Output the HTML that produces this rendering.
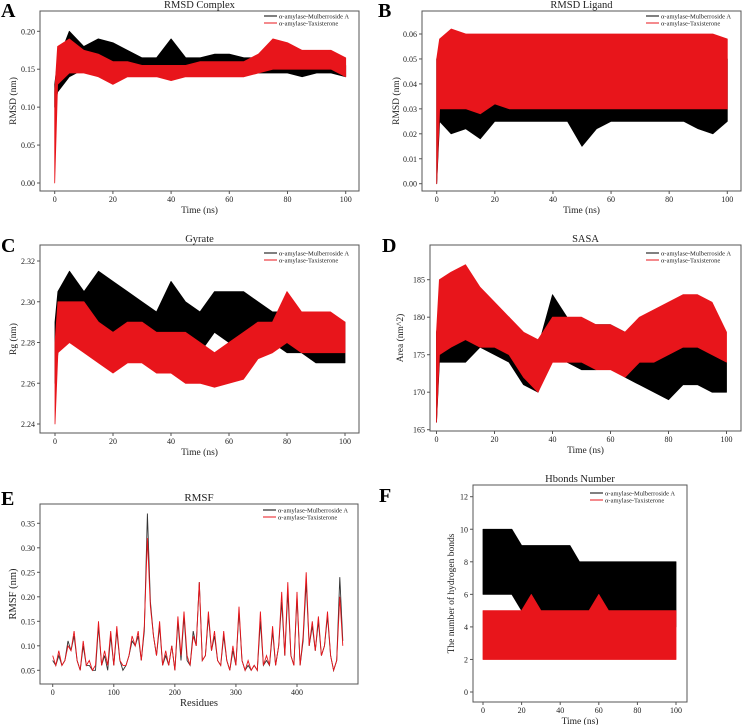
<!DOCTYPE html>
<html><head><meta charset="utf-8"><style>
body{margin:0;background:#fff}
svg{display:block;font-family:"Liberation Serif",serif}
</style></head><body>
<svg id="fig" width="743" height="725" viewBox="0 0 743 725"></svg>
<script>
// ---- data ----
const timesA=[0,1,5,10,15,20,25,30,35,40,45,50,55,60,65,70,75,80,85,90,95,100];
const rmsdComplexMulLo=[0.10,0.12,0.14,0.15,0.15,0.15,0.145,0.145,0.145,0.155,0.145,0.15,0.15,0.15,0.145,0.145,0.145,0.145,0.14,0.145,0.145,0.14];
const rmsdComplexMulHi=[0.13,0.16,0.20,0.18,0.19,0.185,0.175,0.165,0.165,0.19,0.165,0.165,0.17,0.17,0.165,0.165,0.16,0.165,0.16,0.165,0.16,0.155];
const rmsdComplexTaxLo=[0.0,0.13,0.145,0.145,0.14,0.13,0.14,0.14,0.14,0.135,0.14,0.14,0.14,0.14,0.14,0.145,0.15,0.15,0.15,0.15,0.15,0.14];
const rmsdComplexTaxHi=[0.12,0.18,0.19,0.175,0.17,0.16,0.16,0.155,0.155,0.155,0.155,0.16,0.16,0.16,0.16,0.17,0.19,0.185,0.175,0.175,0.175,0.165];
const rmsdLigMulLo=[0.0,0.025,0.02,0.022,0.018,0.025,0.025,0.025,0.025,0.025,0.025,0.015,0.022,0.025,0.025,0.025,0.025,0.025,0.025,0.022,0.02,0.025];
const rmsdLigMulHi=[0.05,0.05,0.05,0.05,0.05,0.05,0.05,0.05,0.05,0.05,0.05,0.05,0.05,0.05,0.05,0.05,0.05,0.05,0.05,0.05,0.05,0.05];
const rmsdLigTaxLo=[0.0,0.03,0.03,0.03,0.028,0.032,0.03,0.03,0.03,0.03,0.03,0.03,0.03,0.03,0.03,0.03,0.03,0.03,0.03,0.03,0.03,0.03];
const rmsdLigTaxHi=[0.05,0.058,0.062,0.06,0.06,0.06,0.06,0.06,0.06,0.06,0.06,0.06,0.06,0.06,0.06,0.06,0.06,0.06,0.06,0.06,0.06,0.058];
const rgMulLo=[2.26,2.275,2.285,2.285,2.285,2.285,2.285,2.28,2.28,2.285,2.28,2.275,2.285,2.28,2.285,2.28,2.28,2.275,2.275,2.27,2.27,2.27];
const rgMulHi=[2.29,2.305,2.315,2.305,2.315,2.31,2.305,2.30,2.295,2.31,2.30,2.295,2.305,2.305,2.305,2.30,2.295,2.295,2.29,2.29,2.29,2.29];
const rgTaxLo=[2.24,2.275,2.28,2.275,2.27,2.265,2.27,2.27,2.265,2.265,2.26,2.26,2.258,2.26,2.262,2.272,2.275,2.28,2.275,2.275,2.275,2.275];
const rgTaxHi=[2.28,2.30,2.30,2.30,2.29,2.285,2.29,2.29,2.285,2.285,2.285,2.28,2.275,2.28,2.285,2.29,2.29,2.305,2.295,2.295,2.295,2.29];
const sasaMulLo=[166,174,174,174,176,175,174,171,170,175,174,173,173,174,172,171,170,169,171,171,170,170];
const sasaMulHi=[178,180,181,183,182,181,180,177,176,183,180,179,179,179,178,176,175,175,176,176,175,174];
const sasaTaxLo=[166,175,176,177,176,176,175,172,170,174,174,174,173,173,172,174,174,175,176,176,175,174];
const sasaTaxHi=[178,185,186,187,184,182,180,178,177,180,180,180,179,179,178,180,181,182,183,183,182,178];
const timesF=[0,5,10,15,20,25,30,35,40,45,50,55,60,65,70,75,80,85,90,95,100];
const hbMulLo=[6,6,6,6,5,5,5,5,5,5,5,5,5,5,4,4,4,4,4,4,4];
const hbMulHi=[10,10,10,10,9,9,9,9,9,9,8,8,8,8,8,8,8,8,8,8,8];
const hbTaxLo=[2,2,2,2,2,2,2,2,2,2,2,2,2,2,2,2,2,2,2,2,2];
const hbTaxHi=[5,5,5,5,5,6,5,5,5,5,5,5,6,5,5,5,5,5,5,5,5];
const residues=[0,5,10,15,20,25,30,35,40,45,50,55,60,65,70,75,80,85,90,95,100,105,110,115,120,125,130,135,140,145,150,155,160,165,170,175,180,185,190,195,200,205,210,215,220,225,230,235,240,245,250,255,260,265,270,275,280,285,290,295,300,305,310,315,320,325,330,335,340,345,350,355,360,365,370,375,380,385,390,395,400,405,410,415,420,425,430,435,440,445,450,455,460,465,470,475];
const rmsfTax=[0.08,0.06,0.09,0.06,0.07,0.10,0.09,0.13,0.07,0.05,0.11,0.06,0.07,0.05,0.06,0.15,0.06,0.09,0.06,0.13,0.06,0.14,0.07,0.06,0.06,0.08,0.12,0.10,0.13,0.07,0.14,0.32,0.18,0.12,0.08,0.15,0.06,0.09,0.06,0.10,0.05,0.16,0.08,0.17,0.08,0.06,0.12,0.10,0.23,0.07,0.08,0.17,0.09,0.13,0.07,0.06,0.13,0.07,0.05,0.10,0.06,0.18,0.07,0.05,0.07,0.05,0.06,0.05,0.17,0.06,0.08,0.06,0.14,0.06,0.10,0.21,0.08,0.23,0.08,0.06,0.21,0.06,0.12,0.25,0.10,0.15,0.09,0.16,0.08,0.10,0.17,0.08,0.05,0.07,0.20,0.10];
const rmsfMul=[0.07,0.06,0.08,0.06,0.07,0.11,0.09,0.12,0.07,0.05,0.10,0.06,0.06,0.05,0.05,0.14,0.06,0.08,0.05,0.12,0.06,0.13,0.07,0.05,0.06,0.08,0.11,0.10,0.12,0.07,0.13,0.37,0.19,0.12,0.08,0.14,0.06,0.08,0.06,0.10,0.05,0.15,0.07,0.16,0.07,0.06,0.13,0.10,0.23,0.07,0.08,0.16,0.09,0.12,0.07,0.06,0.12,0.07,0.05,0.09,0.06,0.17,0.07,0.05,0.06,0.05,0.06,0.05,0.15,0.06,0.07,0.06,0.13,0.06,0.10,0.19,0.08,0.21,0.08,0.06,0.20,0.06,0.11,0.23,0.10,0.14,0.09,0.15,0.08,0.10,0.16,0.08,0.05,0.07,0.24,0.11];

const NS="http://www.w3.org/2000/svg";
const svg=document.getElementById('fig');
function el(tag,attrs,parent,txt){const e=document.createElementNS(NS,tag);for(const k in attrs)e.setAttribute(k,attrs[k]);if(txt!==undefined)e.textContent=txt;(parent||svg).appendChild(e);return e;}

function panel(cfg){
  const g=el('g',{});
  
  
  const b=cfg.box;
  const sx=v=>cfg.x0px+(v-cfg.xd[0])/(cfg.xd[1]-cfg.xd[0])*(cfg.x1px-cfg.x0px);
  const sy=v=>cfg.y0px+(v-cfg.yd[0])/(cfg.yd[1]-cfg.yd[0])*(cfg.y1px-cfg.y0px);
  // series
  cfg.series.forEach(s=>{
    let d;
    if(s.lo){
      d='M'+s.t.map((t,i)=>sx(t).toFixed(1)+','+sy(s.hi[i]).toFixed(1)).join('L')+'L'+s.t.slice().reverse().map((t,j)=>{const i=s.t.length-1-j;return sx(t).toFixed(1)+','+sy(s.lo[i]).toFixed(1);}).join('L')+'Z';
      const p=el('path',{d:d,fill:s.color,stroke:s.color,'stroke-width':0.8,'stroke-linejoin':'round'},g);
      
      
    }else{
      d='M'+s.t.map((t,i)=>sx(t).toFixed(1)+','+sy(s.v[i]).toFixed(1)).join('L');
      const p=el('path',{d:d,fill:'none',stroke:s.color,'stroke-width':0.9},g);
      
      
    }
  });
  const box=el('rect',{x:b[0],y:b[1],width:b[2]-b[0],height:b[3]-b[1],fill:'none',stroke:'#555','stroke-width':1},g);
  
  
  cfg.xt.forEach(v=>{const x=sx(v);el('line',{x1:x,x2:x,y1:b[3],y2:b[3]+3,stroke:'#555'},g);
    const t=el('text',{x:x,y:b[3]+11,'font-size':8,'text-anchor':'middle',fill:'#222'},g,String(v));
    });
  cfg.yt.forEach(v=>{const y=sy(v);el('line',{x1:b[0],x2:b[0]-3,y1:y,y2:y,stroke:'#555'},g);
    const t=el('text',{x:b[0]-5,y:y+3,'font-size':8,'text-anchor':'end',fill:'#222'},g,cfg.fmt(v));
    });
  const ti=el('text',{x:(b[0]+b[2])/2,y:b[1]-3,'font-size':cfg.tfs||10.5,'text-anchor':'middle',fill:'#222'},g,cfg.title);
  
  const xl=el('text',{x:(b[0]+b[2])/2,y:b[3]+22,'font-size':cfg.lfs||9.5,'text-anchor':'middle',fill:'#222'},g,cfg.xlabel);
  
  const yx=cfg.ylx, yy=(b[1]+b[3])/2;
  const yl=el('text',{x:yx,y:yy,'font-size':cfg.lfs||9.5,'text-anchor':'middle',fill:'#222',transform:`rotate(-90 ${yx} ${yy})`},g,cfg.ylabel);
  
  const L=el('g',{},g);
  
  [['α-amylase-Mulberroside A','#000'],['α-amylase-Taxisterone','#e8151b']].forEach((e,i)=>{
    const ly=cfg.leg[1]+i*7;
    el('line',{x1:cfg.leg[0],x2:cfg.leg[0]+13,y1:ly,y2:ly,stroke:e[1],'stroke-width':1},L);
    const t=el('text',{x:cfg.leg[0]+15,y:ly+2.5,'font-size':6.5,fill:'#222'},L,e[0]);
    
  });
  const lt=el('text',{x:cfg.letter[0],y:cfg.letter[1],'font-size':20,'font-weight':'bold',fill:'#000'},g,cfg.letterTxt);
  
}
const K='#000',R='#e8151b';
const f2=v=>v.toFixed(2), f0=v=>String(v);
panel({name:'rmsd-complex-panel',box:[40,11,359,191],xd:[0,100],yd:[0,0.2],x0px:54.7,x1px:345.7,y0px:183,y1px:31.3,
  xt:[0,20,40,60,80,100],yt:[0,0.05,0.1,0.15,0.2],fmt:f2,title:'RMSD Complex',xlabel:'Time (ns)',ylabel:'RMSD (nm)',ylx:16,leg:[264,16],letter:[1,17],letterTxt:'A',
  series:[{name:'mulberroside-rmsd-band',t:timesA,lo:rmsdComplexMulLo,hi:rmsdComplexMulHi,color:K},{name:'taxisterone-rmsd-band',t:timesA,lo:rmsdComplexTaxLo,hi:rmsdComplexTaxHi,color:R}]});
panel({name:'rmsd-ligand-panel',box:[422,11,741,191],xd:[0,100],yd:[0,0.06],x0px:436.7,x1px:727.3,y0px:183.7,y1px:34,
  xt:[0,20,40,60,80,100],yt:[0,0.01,0.02,0.03,0.04,0.05,0.06],fmt:f2,title:'RMSD Ligand',xlabel:'Time (ns)',ylabel:'RMSD (nm)',ylx:399,leg:[646,16],letter:[378,17],letterTxt:'B',
  series:[{name:'mulberroside-ligand-band',t:timesA,lo:rmsdLigMulLo,hi:rmsdLigMulHi,color:K},{name:'taxisterone-ligand-band',t:timesA,lo:rmsdLigTaxLo,hi:rmsdLigTaxHi,color:R}]});
panel({name:'gyrate-panel',box:[40,245,359,433],xd:[0,100],yd:[2.24,2.32],x0px:55,x1px:345,y0px:424,y1px:261,
  xt:[0,20,40,60,80,100],yt:[2.24,2.26,2.28,2.30,2.32],fmt:f2,title:'Gyrate',xlabel:'Time (ns)',ylabel:'Rg (nm)',ylx:16,leg:[264,253],letter:[1,252],letterTxt:'C',
  series:[{name:'mulberroside-rg-band',t:timesA,lo:rgMulLo,hi:rgMulHi,color:K},{name:'taxisterone-rg-band',t:timesA,lo:rgTaxLo,hi:rgTaxHi,color:R}]});
panel({name:'sasa-panel',box:[430,245,741,431],xd:[0,100],yd:[165,185],x0px:436.5,x1px:726.5,y0px:429.7,y1px:279.7,
  xt:[0,20,40,60,80,100],yt:[165,170,175,180,185],fmt:f0,title:'SASA',xlabel:'Time (ns)',ylabel:'Area (nm^2)',ylx:403,leg:[646,253],letter:[382,252],letterTxt:'D',
  series:[{name:'mulberroside-sasa-band',t:timesA,lo:sasaMulLo,hi:sasaMulHi,color:K},{name:'taxisterone-sasa-band',t:timesA,lo:sasaTaxLo,hi:sasaTaxHi,color:R}]});
panel({name:'rmsf-panel',box:[40,504,358,684],xd:[0,400],yd:[0.05,0.35],x0px:52.7,x1px:297,y0px:670.3,y1px:523.3,
  xt:[0,100,200,300,400],yt:[0.05,0.1,0.15,0.2,0.25,0.3,0.35],fmt:f2,title:'RMSF',xlabel:'Residues',ylabel:'RMSF (nm)',ylx:16,leg:[263,510],letter:[1,505],letterTxt:'E',tfs:11,lfs:10.5,
  series:[{name:'mulberroside-rmsf-line',t:residues,v:rmsfMul,color:'#333'},{name:'taxisterone-rmsf-line',t:residues,v:rmsfTax,color:R}]});
panel({name:'hbonds-panel',box:[473,485,687,702],xd:[0,100],yd:[0,12],x0px:483,x1px:676,y0px:692,y1px:496.7,
  xt:[0,20,40,60,80,100],yt:[0,2,4,6,8,10,12],fmt:f0,title:'Hbonds Number',xlabel:'Time (ns)',ylabel:'The number of hydrogen bonds',ylx:454,leg:[590,493],letter:[379,502],letterTxt:'F',
  series:[{name:'mulberroside-hbond-band',t:timesF,lo:hbMulLo,hi:hbMulHi,color:K},{name:'taxisterone-hbond-band',t:timesF,lo:hbTaxLo,hi:hbTaxHi,color:R}]});
</script>
</body></html>
